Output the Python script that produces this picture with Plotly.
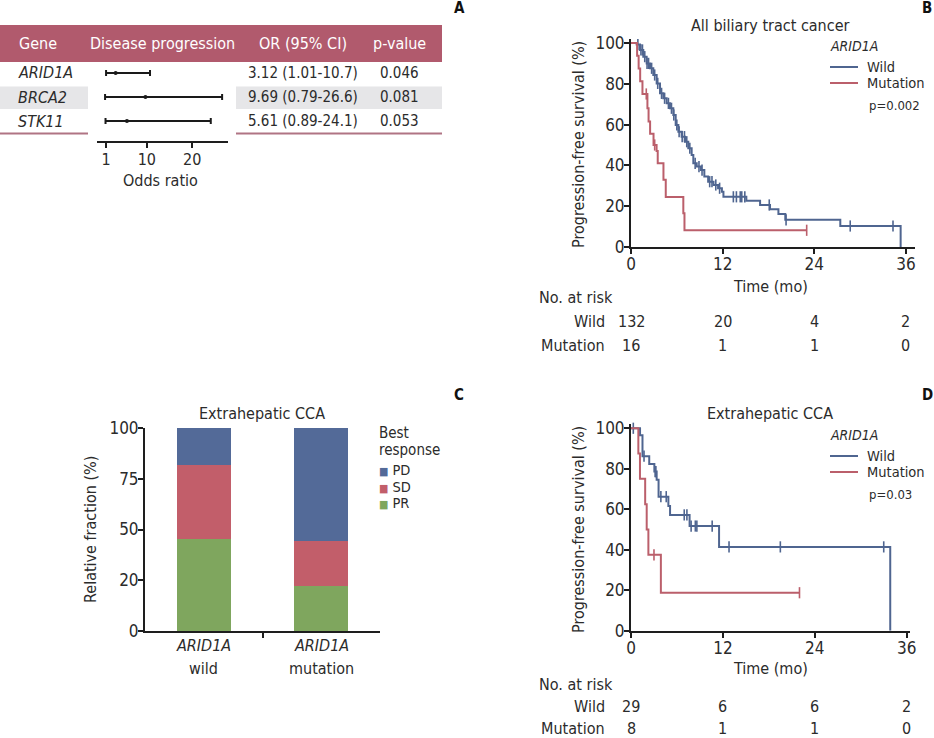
import plotly.graph_objects as go

W, H = 934, 738
FONT = "Liberation Sans Narrow, Arial Narrow, DejaVu Sans Condensed, sans-serif"
TXT = "#2b2b2b"
AX = "#1e1e1e"
BLUE = "#4f6590"
RED = "#bb5f6b"
PINK = "#b15a6d"
C_PD = "#536a98"
C_SD = "#c25e6a"
C_PR = "#7fa65e"

# ---------------- Panel A data ----------------
genes = ["ARID1A", "BRCA2", "STK11"]
or_est = [3.12, 9.69, 5.61]
or_lo = [1.01, 0.79, 0.89]
or_hi = [10.7, 26.6, 24.1]
or_text = ["3.12 (1.01-10.7)", "9.69 (0.79-26.6)", "5.61 (0.89-24.1)"]
p_values = ["0.046", "0.081", "0.053"]
row_pos = [3, 2, 1]
forest_ticks = [1, 10, 20]

# ---------------- Panel B data (all BTC) ----------------
b_wild_t = [0, 0.74, 1.18, 1.61, 2.05, 2.49, 2.92, 3.36, 3.8, 4.23, 4.67, 5.1, 5.54, 5.85,
            6.2, 6.63, 7.07, 7.5, 7.94, 8.16, 8.6, 9.16, 9.6, 10.1, 10.8, 11.4, 11.9, 12.1,
            15.1, 16.9, 18.2, 19.3, 20.2, 27.4, 35.3]
b_wild_s = [100, 99.2, 96.6, 93.3, 90.0, 87.6, 84.3, 80.2, 75.3, 72.9, 70.4, 68.0, 64.7, 59.8,
            56.5, 54.1, 51.6, 48.4, 45.1, 41.0, 39.4, 37.7, 34.5, 32.0, 30.4, 28.8, 27.1, 24.6,
            22.7, 20.6, 18.5, 16.2, 13.3, 10.3, 0]
b_wild_cens = [0.9, 1.3, 1.5, 1.8, 2.1, 2.3, 2.7, 3.1, 3.5, 4.0, 4.4, 4.9, 5.3, 5.6, 6.0, 6.3,
               6.7, 7.0, 7.3, 7.7, 8.4, 8.9, 9.3, 10.3, 10.6, 11.1, 11.6, 13.4, 13.8, 14.3,
               14.5, 14.9, 18.1, 20.3, 28.7, 34.3]
b_mut_t = [0, 0.8, 1.0, 1.2, 1.5, 2.15, 2.3, 2.5, 2.95, 3.35, 3.5, 4.25, 4.55, 6.85, 7.0, 23.0]
b_mut_s = [100, 93.8, 87.5, 81.3, 75, 68, 61.5, 55.5, 50, 47, 41, 33, 24.5, 16.5, 8.2, 8.2]
b_mut_cens = [2.0, 3.1, 23.0]
risk_times = [0, 12, 24, 36]
b_risk_wild = [132, 20, 4, 2]
b_risk_mut = [16, 1, 1, 0]

# ---------------- Panel C data ----------------
c_groups = [0, 1]
c_group_gene = ["ARID1A", "ARID1A"]
c_group_label = ["wild", "mutation"]
c_pr = [45.5, 22.2]
c_sd = [36.4, 22.2]
c_pd = [18.2, 55.6]
c_tickvals = [0, 25, 50, 75, 100]
c_ticktext = ["0", "20", "50", "75", "100"]

# ---------------- Panel D data (extrahepatic CCA) ----------------
d_wild_t = [0, 1.18, 1.5, 2.38, 3.05, 3.35, 3.6, 4.88, 5.1, 7.65, 11.5, 33.85]
d_wild_s = [100, 96.6, 86.2, 82.4, 78.6, 74.5, 66.2, 61.6, 57.2, 51.7, 41.4, 0]
d_wild_cens = [0.3, 1.7, 3.15, 3.25, 3.9, 4.6, 6.95, 7.3, 7.85, 8.4, 8.6, 10.6, 12.8, 19.5, 33.0]
d_mut_t = [0, 0.96, 1.17, 1.85, 2.05, 2.27, 3.9, 22.0]
d_mut_s = [100, 87.5, 75, 62.5, 50, 37.5, 18.75, 18.75]
d_mut_cens = [3.0, 22.0]
d_risk_wild = [29, 6, 6, 2]
d_risk_mut = [8, 1, 1, 0]


def fx(px):
    return px / W


def fy(py):
    return 1 - py / H


def step_at(ts, ss, t):
    val = ss[0]
    for ti, si in zip(ts, ss):
        if ti <= t:
            val = si
    return val


fig = go.Figure()
annotations = []
shapes = []


def ann(text, x, y, size=16, xanchor="center", yanchor="middle", color=TXT,
        xref="paper", yref="paper", **kw):
    if xref == "paper":
        x = fx(x)
    if yref == "paper":
        y = fy(y)
    annotations.append(dict(text=text, x=x, y=y, xref=xref, yref=yref, showarrow=False,
                            xanchor=xanchor, yanchor=yanchor,
                            font=dict(family=FONT, size=size, color=color), **kw))


def rect(x0, y0, x1, y1, color):
    shapes.append(dict(type="rect", xref="paper", yref="paper", x0=fx(x0), x1=fx(x1),
                       y0=fy(y1), y1=fy(y0), fillcolor=color, line=dict(width=0),
                       layer="below"))


def hline(x0, x1, y, color, width):
    shapes.append(dict(type="line", xref="paper", yref="paper", x0=fx(x0), x1=fx(x1),
                       y0=fy(y), y1=fy(y), line=dict(color=color, width=width)))


# ---------------- Panel A ----------------
rect(0, 25, 442, 62, PINK)
rect(0, 86.5, 88, 109, "#e6e6e8")
rect(236, 86.5, 442, 109, "#e6e6e8")
hline(0, 88, 133.5, "#b07484", 2)
hline(236, 442, 133.5, "#b07484", 2)
ann("Gene", 17, 44, size=16, xanchor="left", color="white")
ann("Disease progression", 162, 44, size=16, color="white")
ann("OR (95% CI)", 303, 44, size=16, color="white")
ann("p-value", 399, 44, size=16, color="white")
for g, yv, ot, pv in zip(genes, row_pos, or_text, p_values):
    ann("<i>%s</i>" % g, 16, yv, size=16, xanchor="left", xref="paper", yref="y4")
    ann(ot, 303, yv, size=15, xref="paper", yref="y4")
    ann(pv, 399, yv, size=15, xref="paper", yref="y4")

fig.add_trace(go.Scatter(
    x=or_est, y=row_pos, mode="markers", xaxis="x4", yaxis="y4",
    marker=dict(color="#1a1a1a", size=4),
    error_x=dict(type="data", symmetric=False,
                 array=[h - e for h, e in zip(or_hi, or_est)],
                 arrayminus=[e - l for e, l in zip(or_est, or_lo)],
                 color="#1a1a1a", thickness=2, width=3),
    showlegend=False, hoverinfo="skip"))
ann("Odds ratio", 160, 181, size=16)

# ---------------- KM helper ----------------
def km(ts, ss, cens, color, xa, ya):
    fig.add_trace(go.Scatter(x=ts, y=ss, mode="lines", line=dict(color=color, width=2, shape="hv"),
                             xaxis=xa, yaxis=ya, showlegend=False, hoverinfo="skip",
                             cliponaxis=False))
    fig.add_trace(go.Scatter(x=cens, y=[step_at(ts, ss, c) for c in cens], mode="markers",
                             marker=dict(symbol="line-ns", size=8,
                                         line=dict(color=color, width=1.6)),
                             xaxis=xa, yaxis=ya, showlegend=False, hoverinfo="skip",
                             cliponaxis=False))


km(b_wild_t, b_wild_s, b_wild_cens, BLUE, "x", "y")
km(b_mut_t, b_mut_s, b_mut_cens, RED, "x", "y")
km(d_wild_t, d_wild_s, d_wild_cens, BLUE, "x2", "y2")
km(d_mut_t, d_mut_s, d_mut_cens, RED, "x2", "y2")

for (title_y, leg_y0, ylab_y, time_y, risk_y0, dy, rw, rm, p_txt, title, xa) in [
        (25, 46, 145, 286, 297, 24, b_risk_wild, b_risk_mut, "p=0.002", "All biliary tract cancer", "x"),
        (413, 435, 530, 668, 684, 22, d_risk_wild, d_risk_mut, "p=0.03", "Extrahepatic CCA", "x2")]:
    ann(title, 770, title_y, size=16)
    ann("<i>ARID1A</i>", 828, leg_y0, size=14, xanchor="left")
    hline(830, 858, leg_y0 + 21, BLUE, 2)
    hline(830, 858, leg_y0 + 37, RED, 2)
    ann("Wild", 865, leg_y0 + 21, size=14.5, xanchor="left")
    ann("Mutation", 865, leg_y0 + 37, size=14.5, xanchor="left")
    ann(p_txt, 867, leg_y0 + 59, size=13, xanchor="left")
    ann("Progression-free survival (%)", 578, ylab_y, size=16, textangle=-90)
    ann("Time (mo)", 770, time_y, size=16)
    ann("No. at risk", 537, risk_y0, size=16, xanchor="left")
    ann("Wild", 607, risk_y0 + dy, size=16, xanchor="right")
    ann("Mutation", 607, risk_y0 + 2 * dy, size=16, xanchor="right")
    for t, a, b in zip(risk_times, rw, rm):
        ann(str(a), t, risk_y0 + dy, size=16, xref=xa)
        ann(str(b), t, risk_y0 + 2 * dy, size=16, xref=xa)

# ---------------- Panel C ----------------
for vals, col, name in [(c_pr, C_PR, "PR"), (c_sd, C_SD, "SD"), (c_pd, C_PD, "PD")]:
    fig.add_trace(go.Bar(x=c_groups, y=vals, width=0.46, marker=dict(color=col, line=dict(width=0)),
                         xaxis="x3", yaxis="y3", name=name, showlegend=False, hoverinfo="skip"))
ann("Extrahepatic CCA", 262, 413, size=16)
for gx, gg, gl in zip(c_groups, c_group_gene, c_group_label):
    ann("<i>%s</i>" % gg, gx, 645, size=16, xref="x3")
    ann(gl, gx, 668, size=16, xref="x3")
ann("Relative fraction (%)", 90, 530, size=16, textangle=-90)
ann("Best", 377, 433, size=15, xanchor="left")
ann("response", 377, 450, size=15, xanchor="left")
for i, (lab, col) in enumerate([("PD", C_PD), ("SD", C_SD), ("PR", C_PR)]):
    ann('<span style="color:%s;font-size:11px">■</span> %s' % (col, lab), 377, 470 + 16.5 * i,
        size=14.5, xanchor="left")

for lab, x, y in [("A", 459, 8), ("B", 927, 8), ("C", 459, 395), ("D", 927, 395)]:
    ann("<b>%s</b>" % lab, x, y, size=15, color="#111")

axis_common = dict(showline=True, linecolor=AX, linewidth=2, ticks="outside", ticklen=5,
                   tickwidth=2, tickcolor=AX, showgrid=False, zeroline=False, automargin=False,
                   ticklabelstandoff=-4,
                   tickfont=dict(family=FONT, size=17, color=TXT), fixedrange=True)
forest_axis = dict(axis_common)
forest_axis["tickfont"] = dict(family=FONT, size=16, color=TXT)
forest_axis["ticklabelstandoff"] = -2

fig.update_layout(
    width=W, height=H, autosize=False,
    margin=dict(l=0, r=0, t=0, b=0, pad=0, autoexpand=False),
    paper_bgcolor="white", plot_bgcolor="rgba(0,0,0,0)",
    barmode="stack", bargap=0,
    font=dict(family=FONT, color=TXT),
    xaxis=dict(domain=[fx(631), fx(915)], range=[0, 37.18], tickvals=risk_times,
               anchor="y", **axis_common),
    yaxis=dict(domain=[fy(247), fy(38.9)], range=[0, 102], tickvals=[0, 20, 40, 60, 80, 100],
               anchor="x", **axis_common),
    xaxis2=dict(domain=[fx(631), fx(910)], range=[0, 36.43], tickvals=risk_times,
                anchor="y2", **axis_common),
    yaxis2=dict(domain=[fy(630.7), fy(424.2)], range=[0, 102], tickvals=[0, 20, 40, 60, 80, 100],
                anchor="x2", **axis_common),
    xaxis3=dict(domain=[fx(145), fx(380)], range=[-0.504, 1.504], tickvals=[0.5], ticktext=[""],
                anchor="y3", **axis_common),
    yaxis3=dict(domain=[fy(631), fy(428)], range=[0, 100], tickvals=c_tickvals, ticktext=c_ticktext,
                anchor="x3", **axis_common),
    xaxis4=dict(domain=[fx(97), fx(228)], range=[-0.99, 27.9], tickvals=forest_ticks,
                anchor="y4", **forest_axis),
    yaxis4=dict(domain=[fy(141), fy(62)], range=[0.167, 3.458], visible=False, anchor="x4",
                fixedrange=True),
    annotations=annotations,
    shapes=shapes,
)

fig.write_html("out.html", config={"displayModeBar": False, "staticPlot": True},
               post_script="document.body.style.margin='0';document.body.style.overflow='hidden';")
